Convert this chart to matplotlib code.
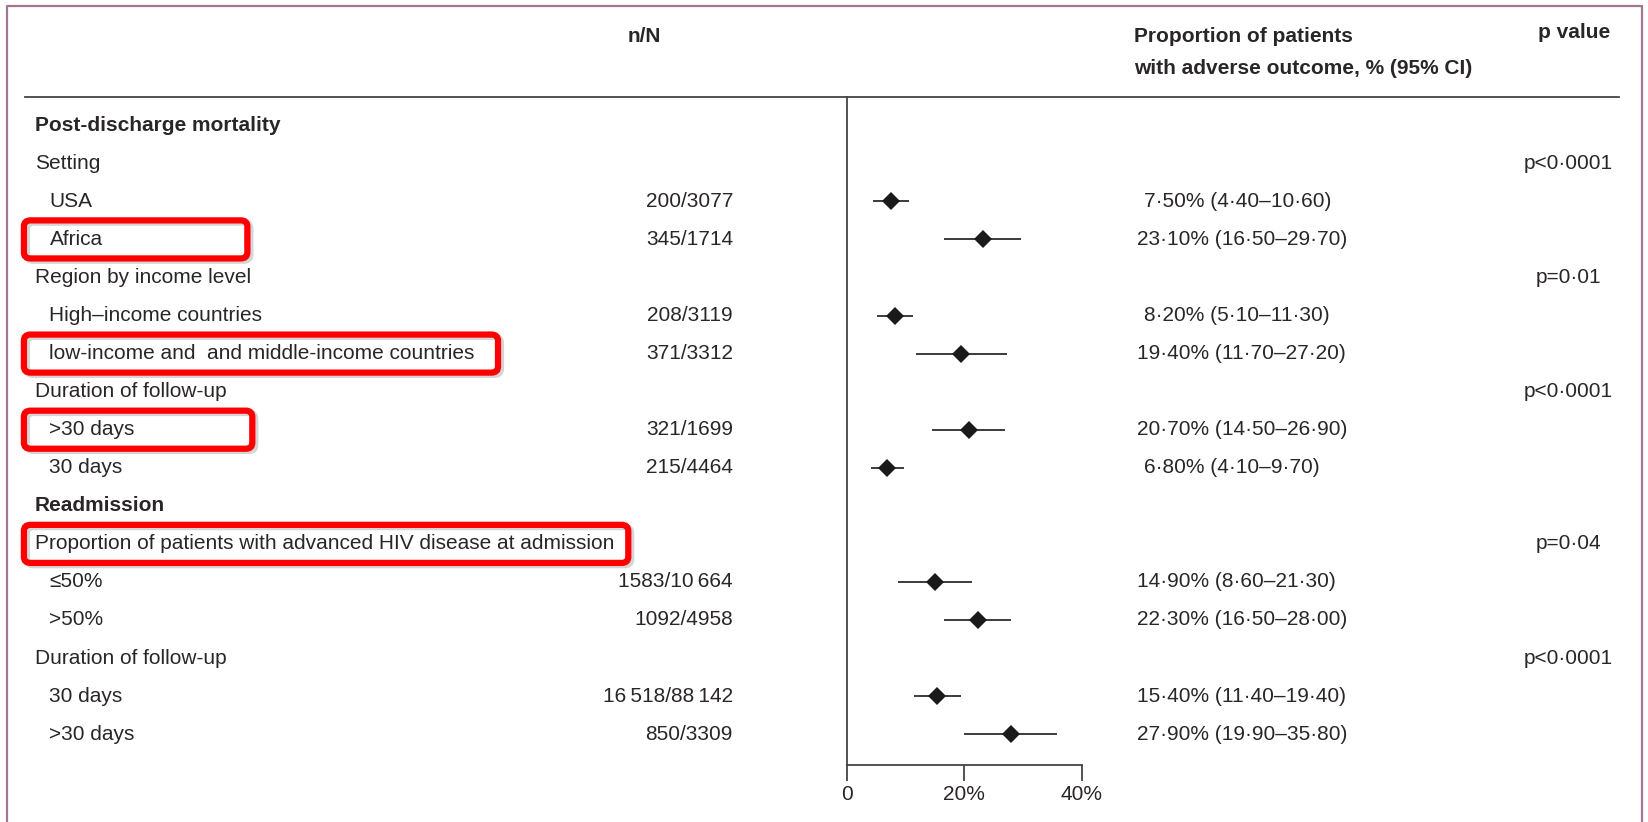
import matplotlib.pyplot as plt
import matplotlib.transforms as mtransforms
from matplotlib.patches import FancyBboxPatch
from matplotlib.lines import Line2D

# Row labels (top to bottom), with indent level: 0 = heading, 1 = sub-item
labels = [
    "Post-discharge mortality", "Setting", "USA", "Africa",
    "Region by income level", "High\u2013income countries",
    "low-income and  and middle-income countries",
    "Duration of follow-up", ">30 days", "30 days",
    "Readmission", "Proportion of patients with advanced HIV disease at admission",
    "\u226450%", ">50%", "Duration of follow-up", "30 days", ">30 days",
]
indent = [0, 0, 1, 1, 0, 1, 1, 0, 1, 1, 0, 0, 1, 1, 0, 1, 1]
bold_rows = [0, 10]

n_over_N = {
    2: "200/3077", 3: "345/1714", 5: "208/3119", 6: "371/3312",
    8: "321/1699", 9: "215/4464", 12: "1583/10\u2009664", 13: "1092/4958",
    15: "16\u2009518/88\u2009142", 16: "850/3309",
}
est = {2: 7.5, 3: 23.1, 5: 8.2, 6: 19.4, 8: 20.7, 9: 6.8, 12: 14.9, 13: 22.3, 15: 15.4, 16: 27.9}
lo = {2: 4.4, 3: 16.5, 5: 5.1, 6: 11.7, 8: 14.5, 9: 4.1, 12: 8.6, 13: 16.5, 15: 11.4, 16: 19.9}
hi = {2: 10.6, 3: 29.7, 5: 11.3, 6: 27.2, 8: 26.9, 9: 9.7, 12: 21.3, 13: 28.0, 15: 19.4, 16: 35.8}
p_values = {1: "p<0\u00b70001", 4: "p=0\u00b701", 7: "p<0\u00b70001", 11: "p=0\u00b704", 14: "p<0\u00b70001"}
highlight = {3: 0.150, 6: 0.302, 8: 0.153, 11: 0.381}  # row -> box right edge (fig fraction)

FONT = ["Liberation Sans Narrow", "Liberation Sans", "DejaVu Sans"]
plt.rcParams["font.family"] = FONT
plt.rcParams["font.size"] = 15
TXT = "#2a2627"


def fmt(v):
    return f"{v:.2f}".replace(".", "\u00b7")


fig = plt.figure(figsize=(16.49, 8.22), dpi=100)
ax = fig.add_axes([0.5138, 0.0698, 0.1421, 0.8124])
ax.set_xlim(0, 40)
ax.set_ylim(16.80, -0.746)

rows = sorted(est)
for r in rows:
    ax.plot([lo[r], hi[r]], [r, r], color="#1a1a1a", lw=1.2, solid_capstyle="butt")
    ax.plot(est[r], r, marker="D", color="#1a1a1a", markersize=8.8, mew=0)

for s in ["top", "right"]:
    ax.spines[s].set_visible(False)
for s in ["left", "bottom"]:
    ax.spines[s].set_color("#444444")
    ax.spines[s].set_linewidth(1.3)
ax.spines["bottom"].set_bounds(0, 40)
ax.set_yticks([])
ax.set_xticks([0, 20, 40])
ax.set_xticklabels(["0", "20%", "40%"])
ax.tick_params(axis="x", length=11.5, width=1.3, color="#444444", pad=3,
               labelcolor=TXT, labelsize=15)

trans = mtransforms.blended_transform_factory(fig.transFigure, ax.transData)

for i, lab in enumerate(labels):
    x = 0.030 if indent[i] else 0.021
    ax.text(x, i, lab, transform=trans, ha="left", va="center", color=TXT,
            fontweight="bold" if i in bold_rows else "normal", clip_on=False)

for r, s in n_over_N.items():
    ax.text(0.4445, r, s, transform=trans, ha="right", va="center", color=TXT, clip_on=False)
    x = 0.6935 if est[r] < 10 else 0.6893
    ax.text(x, r, f"{fmt(est[r])}% ({fmt(lo[r])}\u2013{fmt(hi[r])})", transform=trans,
            ha="left", va="center", color=TXT, clip_on=False)

for r, s in p_values.items():
    ax.text(0.951, r, s, transform=trans, ha="center", va="center", color=TXT, clip_on=False)

# highlight boxes
for r, x1 in highlight.items():
    x0 = 0.0145
    for dx, dy, col, a in [(0.0018, 0.06, "#888888", 0.35), (0, 0, "#ff0000", 1)]:
        box = FancyBboxPatch((x0 + dx, r - 0.50 + dy), x1 - x0, 1.0,
                             boxstyle="round,pad=0,rounding_size=0.004",
                             transform=trans, fill=False, edgecolor=col,
                             lw=4.5, alpha=a, clip_on=False, mutation_aspect=40)
        ax.add_patch(box)

# column headers
fig.text(0.3905, 1 - 36 / 822, "n/N", ha="center", va="center", color=TXT, fontweight="bold")
fig.text(0.6875, 1 - 37 / 822, "Proportion of patients", ha="left", va="center", color=TXT, fontweight="bold")
fig.text(0.6875, 1 - 68 / 822, "with adverse outcome, % (95% CI)", ha="left", va="center", color=TXT, fontweight="bold")
fig.text(0.9325, 1 - 32 / 822, "p value", ha="left", va="center", color=TXT, fontweight="bold")

# header rule
fig.add_artist(Line2D([0.0153, 0.982], [1 - 97 / 822] * 2, color="#444444", lw=1.3,
                      transform=fig.transFigure))
# outer frame
fig.add_artist(Line2D([0.0045, 0.0045, 0.9955, 0.9955], [-0.01, 0.9925, 0.9925, -0.01],
                      color="#a27593", lw=1.6, transform=fig.transFigure))

fig.savefig("out.png", dpi=100)
